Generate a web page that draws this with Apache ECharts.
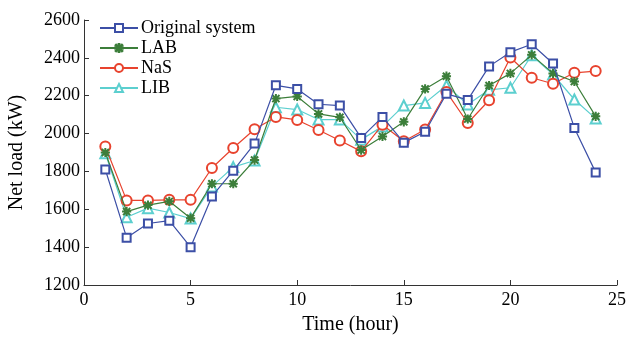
<!DOCTYPE html>
<html><head><meta charset="utf-8">
<script src="https://cdn.jsdelivr.net/npm/echarts@6/dist/echarts.min.js"></script>
<style>html,body{margin:0;padding:0;background:#fff}#c{width:630px;height:338px}</style>
</head><body><div id="c"></div>
<script>
const hours = [1,2,3,4,5,6,7,8,9,10,11,12,13,14,15,16,17,18,19,20,21,22,23,24];
const original = [1810,1450,1525,1540,1400,1668,1804,1947,2255,2236,2155,2148,1977,2088,1952,2010,2210,2178,2355,2430,2472,2370,2030,1795];
const lab      = [1900,1588,1622,1642,1553,1735,1735,1860,2185,2196,2104,2086,1913,1985,2062,2236,2303,2077,2254,2318,2416,2318,2275,2091];
const nas      = [1932,1647,1647,1650,1650,1818,1924,2023,2088,2072,2019,1963,1906,2047,1959,2021,2220,2056,2176,2402,2295,2263,2321,2330];
const lib      = [1896,1558,1606,1583,1551,1721,1823,1858,2139,2127,2074,2074,1968,2038,2148,2162,2254,2153,2231,2242,2414,2312,2180,2079];
const names = ['Original system','LAB','NaS','LIB'];
const colors = ['#3c4fa6','#3c7e3a','#e8432e','#5ccfcf'];
const star = 'path://M0.45,0 L0.55,0 L0.55,0.38 L0.86,0.08 L0.93,0.15 L0.62,0.45 L1,0.45 L1,0.55 L0.62,0.55 L0.93,0.86 L0.86,0.93 L0.55,0.62 L0.55,1 L0.45,1 L0.45,0.62 L0.14,0.93 L0.07,0.86 L0.38,0.55 L0,0.55 L0,0.45 L0.38,0.45 L0.07,0.15 L0.14,0.08 L0.45,0.38 Z';
const symbols = ['emptyRect', star, 'emptyCircle', 'emptyTriangle'];
const sizes = [8, 8, 10, 10];
const dataSets = [original, lab, nas, lib];
const font = 'Liberation Serif';
const chart = echarts.init(document.getElementById('c'));
chart.setOption({
  animation:false,
  backgroundColor:'#fff',
  grid:{left:84,right:13,top:20,bottom:53,containLabel:false,outerBoundsMode:'none'},
  legend:{
    orient:'vertical', left:94, top:14, itemGap:2, itemWidth:38, itemHeight:10,
    textStyle:{fontFamily:font,fontSize:18,color:'#000',padding:[0,0,0,-2]},
    data:names
  },
  xAxis:{
    type:'value', min:0, max:25, interval:5,
    name:'Time (hour)', nameLocation:'middle', nameGap:30,
    nameTextStyle:{fontFamily:font,fontSize:20,color:'#000'},
    axisLine:{lineStyle:{color:'#333',width:1}},
    axisTick:{inside:true,length:5,lineStyle:{color:'#333'}},
    axisLabel:{fontFamily:font,fontSize:18,color:'#000',margin:6},
    splitLine:{show:false}
  },
  yAxis:{
    type:'value', min:1200, max:2600, interval:200,
    name:'Net load (kW)', nameLocation:'middle', nameGap:57,
    nameTextStyle:{fontFamily:font,fontSize:20,color:'#000'},
    axisLine:{show:true,lineStyle:{color:'#333',width:1}},
    axisTick:{show:true,inside:true,length:5,lineStyle:{color:'#333'}},
    axisLabel:{fontFamily:font,fontSize:18,color:'#000',margin:4,formatter:v=>String(v)},
    splitLine:{show:false}
  },
  series: names.map((n,i)=>({
    name:n, type:'line',
    data: hours.map((h,k)=>[h,dataSets[i][k]]),
    symbol:symbols[i], symbolSize:sizes[i],
    showAllSymbol:true,
    lineStyle:{color:colors[i],width:1.2},
    itemStyle:{color:colors[i],borderColor:colors[i],borderWidth:1.2},
    z: 10-i
  }))
});
</script></body></html>
